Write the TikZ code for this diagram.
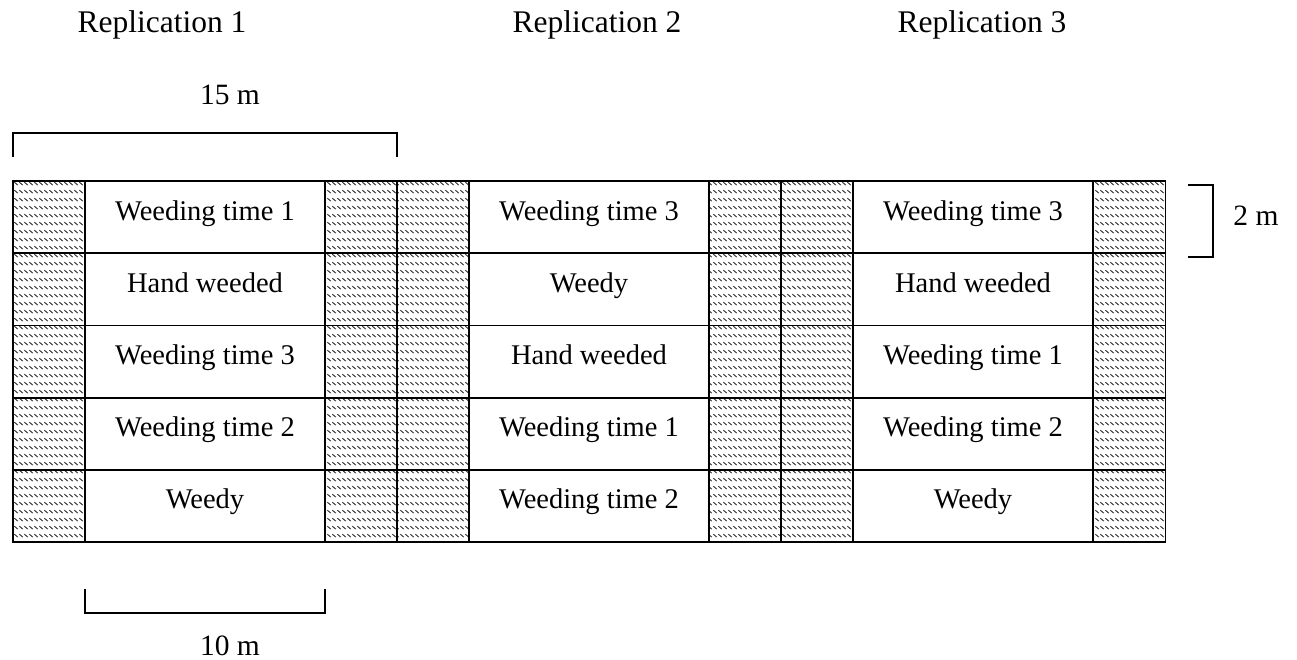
\documentclass[tikz,border=0pt]{standalone}
\usepackage{fontspec}
\setmainfont{Liberation Serif}
\usetikzlibrary{patterns.meta}

% short back-slanted ticks in rows, for the guard strips
\tikzdeclarepattern{
  name=tickrows,
  type=uncolored,
  bottom left={(0pt,0pt)},
  top right={(4.6pt,8pt)},
  tile size={(4.6pt,8pt)},
  code={\draw[line width=0.95pt] (0.4pt,6.5pt) -- (4.0pt,3.3pt);}
}

\tikzset{
  gridline/.style={line width=1.8pt, line cap=rect},
  guard/.style={pattern={tickrows}, pattern color=black!85},
  bracket/.style={line width=1.8pt},
  celltext/.style={font=\fontsize{28.5}{34}\selectfont, inner sep=0pt, anchor=base},
  reptext/.style={font=\fontsize{31.5}{38}\selectfont, inner sep=0pt, anchor=base},
  dimtext/.style={font=\fontsize{29.5}{36}\selectfont, inner sep=0pt, anchor=base},
}

\begin{document}
\begin{tikzpicture}[x=1pt,y=-1pt]
\useasboundingbox (0,0) rectangle (1297,659);

% replication headings
\node[reptext] (rep1) at (162,32) {Replication 1};
\node[reptext] (rep2) at (597,32) {Replication 2};
\node[reptext] (rep3) at (982,32) {Replication 3};

% guard strips
\foreach \xa/\xb in {13/85, 325/397, 397/469, 709/781, 781/853, 1093/1165.5}
  \fill[guard] (\xa,181) rectangle (\xb,542);

% grid
\foreach \y in {181, 253.2, 325.4, 397.6, 469.8, 542}
  \draw[gridline] (13,\y) -- (1165.5,\y);
\foreach \x in {13, 85, 325, 397, 469, 709, 781, 853, 1093, 1165.5}
  \draw[gridline] (\x,181) -- (\x,542);

% treatments, replication 1
\node[celltext] (a1) at (205,220) {Weeding time 1};
\node[celltext] (a2) at (205,292.2) {Hand weeded};
\node[celltext] (a3) at (205,364.4) {Weeding time 3};
\node[celltext] (a4) at (205,436.6) {Weeding time 2};
\node[celltext] (a5) at (205,508.8) {Weedy};
% treatments, replication 2
\node[celltext] (b1) at (589,220) {Weeding time 3};
\node[celltext] (b2) at (589,292.2) {Weedy};
\node[celltext] (b3) at (589,364.4) {Hand weeded};
\node[celltext] (b4) at (589,436.6) {Weeding time 1};
\node[celltext] (b5) at (589,508.8) {Weeding time 2};
% treatments, replication 3
\node[celltext] (c1) at (973,220) {Weeding time 3};
\node[celltext] (c2) at (973,292.2) {Hand weeded};
\node[celltext] (c3) at (973,364.4) {Weeding time 1};
\node[celltext] (c4) at (973,436.6) {Weeding time 2};
\node[celltext] (c5) at (973,508.8) {Weedy};

% dimension: 15 m across one replication
\draw[bracket] (13,157) -- (13,133) -- (397,133) -- (397,157);
\node[dimtext] (d15) at (230,104) {15 m};

% dimension: 10 m plot length
\draw[bracket] (85,589) -- (85,613) -- (325,613) -- (325,589);
\node[dimtext] (d10) at (230,655) {10 m};

% dimension: 2 m plot width
\draw[bracket] (1188,185) -- (1213,185) -- (1213,257) -- (1188,257);
\node[dimtext] (d2) at (1256,225) {2 m};
\end{tikzpicture}
\end{document}
